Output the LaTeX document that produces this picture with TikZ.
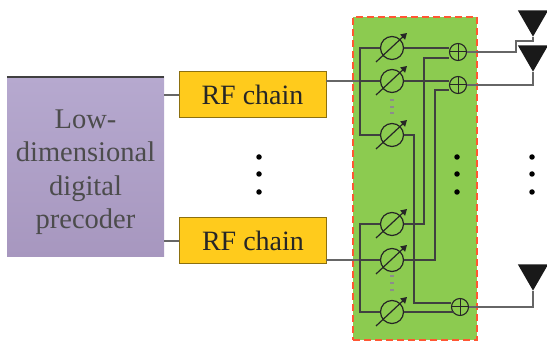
\documentclass[tikz,border=0pt]{standalone}
\usepackage{fontspec}
\setmainfont{Liberation Serif}
\usetikzlibrary{shapes.geometric,arrows.meta,positioning}
\definecolor{leafgreen}{HTML}{8CCB50}
\definecolor{chainyellow}{HTML}{FFCB1C}
\definecolor{lilactop}{HTML}{B6A9CF}
\definecolor{lilacbottom}{HTML}{A797BF}
\begin{document}
\begin{tikzpicture}[x=1pt, y=-1pt,
    >={Triangle[]},
    wire/.style={draw=black!75, line width=1.5pt},
    outwire/.style={draw=black!60, line width=1.4pt},
    panel/.style={draw=red!65!orange!80, fill=leafgreen, line width=1.8pt, dash pattern=on 7pt off 4pt},
    precoder/.style={draw=none, top color=lilactop, bottom color=lilacbottom, inner sep=0pt, minimum width=157pt, minimum height=180pt},
    precodertext/.style={text=black!70, align=center, inner sep=0pt, font=\fontsize{28.5}{33.5}\selectfont},
    chainbox/.style={draw=black!45!chainyellow, fill=chainyellow, line width=1pt, inner sep=0pt, minimum width=147pt, minimum height=46pt, text=black!85, font=\fontsize{28}{33}\selectfont},
    shifter/.style={circle, draw=black!85, fill=leafgreen, line width=1.2pt, inner sep=0pt, minimum size=23pt},
    tuner/.style={->, draw=black!85, line width=1.2pt},
    adder/.style={circle, draw=black!85, fill=leafgreen, line width=1.1pt, inner sep=0pt, minimum size=17pt, path picture={
        \draw[black!85, line width=1pt] (path picture bounding box.north) -- (path picture bounding box.south);
        \draw[black!85, line width=1pt] (path picture bounding box.west) -- (path picture bounding box.east);}},
    antenna/.style={regular polygon, regular polygon sides=3, shape border rotate=180, fill=black!90, inner sep=0pt, minimum size=35pt, anchor=corner 1},
    bigdot/.style={circle, fill=black, inner sep=0pt, minimum size=5.5pt},
    gapdot/.style={fill=black!45, inner sep=0pt, minimum width=4pt, minimum height=2pt}]

\useasboundingbox (0,0) rectangle (547,342);

\node [panel, minimum width=124pt, minimum height=323pt, inner sep=0pt] (board) at (415,178.5) {};

\node [precoder] (prec) at (85.5,167) {};
\node [precodertext] (prectext) at (85.5,172) {Low-\\dimensional\\digital\\precoder};
\node [chainbox] (rf1) at (252.5,95) {RF chain};
\node [chainbox] (rf2) at (253,241) {RF chain};

\coordinate (in1) at (326,81);
\coordinate (in2) at (326,260);
\coordinate (bus1) at (360,81);
\coordinate (bus2) at (360,260);

\node [shifter] (ps1) at (392,48) {};
\node [shifter] (ps2) at (392,81) {};
\node [shifter] (ps3) at (392,135) {};
\node [shifter] (ps4) at (392,224) {};
\node [shifter] (ps5) at (392,260) {};
\node [shifter] (ps6) at (392,312) {};

\node [adder] (add1) at (458,52) {};
\node [adder] (add2) at (458,85) {};
\node [adder] (add3) at (460,307) {};

\node [antenna] (ant1) at (533,37) {};
\node [antenna] (ant2) at (533,72) {};
\node [antenna] (ant3) at (533,291) {};

% input side
\draw [wire] (prec.north west) -- (prec.north east);
\draw [outwire] (rf1.west -| prec.east) -- (rf1.west);
\draw [outwire] (rf2.west -| prec.east) -- (rf2.west);
\draw [outwire] (in1) -- (bus1);
\draw [outwire] (in2) -- (bus2);
\draw [wire] (bus1) -- (ps2.west);
\draw [wire] (bus2) -- (ps5.west);
\draw [wire] (ps1.west) -| (bus1) |- (ps3.west);
\draw [wire] (ps4.west) -| (bus2) |- (ps6.west);

% shifters to adders
\draw [wire] (ps1.east) -- (ps1.east -| add1.west);
\draw [wire] (ps2.east) -- (ps2.east -| add2.west);
\draw [wire] (ps3.east) -| (414,303) -- (add3.west |- 0,303);
\draw [wire] (ps4.east) -| (424,58) -- (add1.west |- 0,58);
\draw [wire] (ps5.east) -| (435,90) -- (add2.west |- 0,90);
\draw [wire] (ps6.east) -- (add3.south west |- ps6.east);

% adders to antennas
\draw [outwire] (add1.east) -- (516,52) |- (533,41) -- (ant1.corner 1);
\draw [outwire] (add2.east) -| (ant2.corner 1);
\draw [outwire] (add3.east) -| (ant3.corner 1);

\foreach \ps in {ps1,ps2,ps3,ps4,ps5,ps6}
    \draw [tuner] ([shift={(-16,14)}]\ps.center) -- ([shift={(15,-15)}]\ps.center);

\foreach \dotx/\dotname in {259/a,457/b,532/c} {
    \node [bigdot] (dot\dotname1) at (\dotx,157) {};
    \node [bigdot] (dot\dotname2) at (\dotx,174) {};
    \node [bigdot] (dot\dotname3) at (\dotx,192) {};
}
\foreach \gapy in {100,107,113,276,283,290}
    \node [gapdot] (gap\gapy) at (392,\gapy) {};

\end{tikzpicture}
\end{document}
